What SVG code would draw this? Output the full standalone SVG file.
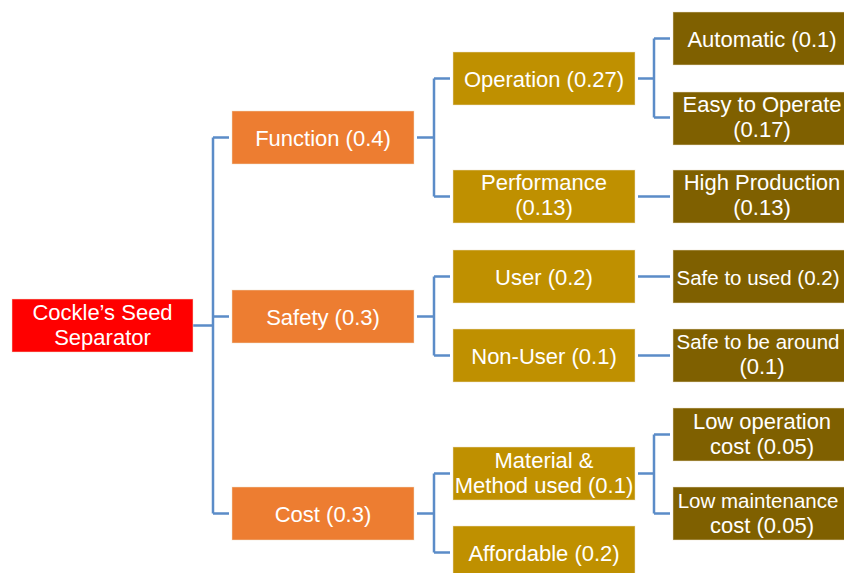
<svg xmlns="http://www.w3.org/2000/svg" width="844" height="573" viewBox="0 0 844 573">
<style>
.box{stroke:#F2E6D0;stroke-width:1;stroke-opacity:0.5}
.root{fill:#FF0000}
.l1{fill:#ED7D31}
.l2{fill:#BF9000}
.l3{fill:#7F6000}
text{font-family:"Liberation Sans",Arial,sans-serif;font-size:22px;fill:#FFFFFF;text-anchor:middle}
text.tight{font-size:20.5px}
.conn{fill:none;stroke:#5B8CC8;stroke-width:2.5}
</style>
<rect width="844" height="573" fill="#FFFFFF"/>
<g id="connectors" class="conn">
<path d="M193,325.5 H213 M213,137.5 V513.5 M213,137.5 H229 M213,316.5 H229 M213,513.5 H229"/>
<path d="M417,137.5 H434 M434,78.5 V196.5 M434,78.5 H450 M434,196.5 H450"/>
<path d="M417,316.5 H434 M434,276.5 V355.5 M434,276.5 H450 M434,355.5 H450"/>
<path d="M417,513.5 H434 M434,473.5 V552.5 M434,473.5 H450 M434,552.5 H450"/>
<path d="M638,78.5 H654 M654,38.5 V117.5 M654,38.5 H670 M654,117.5 H670"/>
<path d="M638,196.5 H670 M638,276.5 H670 M638,355.5 H670"/>
<path d="M638,473.5 H654 M654,434.5 V513.5 M654,434.5 H670 M654,513.5 H670"/>
</g>
<g id="root"><rect class="box root" x="12" y="299" width="181" height="53"/><text x="102.5" y="319.5">Cockle’s Seed</text><text x="102.5" y="344.5">Separator</text></g>
<g id="function"><rect class="box l1" x="232" y="111" width="182" height="53"/><text x="323" y="145.5">Function (0.4)</text></g>
<g id="safety"><rect class="box l1" x="232" y="290" width="182" height="53"/><text x="323" y="324.5">Safety (0.3)</text></g>
<g id="cost"><rect class="box l1" x="232" y="487" width="182" height="53"/><text x="323" y="521.5">Cost (0.3)</text></g>
<g id="operation"><rect class="box l2" x="453" y="52" width="182" height="53"/><text x="544" y="86.5">Operation (0.27)</text></g>
<g id="performance"><rect class="box l2" x="453" y="170" width="182" height="53"/><text x="544" y="189.5">Performance</text><text x="544" y="214.5">(0.13)</text></g>
<g id="user"><rect class="box l2" x="453" y="250" width="182" height="53"/><text x="544" y="284.5">User (0.2)</text></g>
<g id="non-user"><rect class="box l2" x="453" y="329" width="182" height="53"/><text x="544" y="363.5">Non-User (0.1)</text></g>
<g id="material"><rect class="box l2" x="453" y="447" width="182" height="53"/><text x="544" y="467.5">Material &amp;</text><text x="544" y="492.5">Method used (0.1)</text></g>
<g id="affordable"><rect class="box l2" x="453" y="526" width="182" height="53"/><text x="544" y="560.5">Affordable (0.2)</text></g>
<g id="automatic"><rect class="box l3" x="673" y="12" width="182" height="53"/><text x="762" y="46.5">Automatic (0.1)</text></g>
<g id="easy"><rect class="box l3" x="673" y="92" width="182" height="53"/><text x="762" y="111.5">Easy to Operate</text><text x="762" y="136.5">(0.17)</text></g>
<g id="high-production"><rect class="box l3" x="673" y="170" width="182" height="53"/><text x="762" y="189.5">High Production</text><text x="762" y="214.5">(0.13)</text></g>
<g id="safe-used"><rect class="box l3" x="673" y="250" width="182" height="53"/><text class="tight" x="758" y="284.5">Safe to used (0.2)</text></g>
<g id="safe-around"><rect class="box l3" x="673" y="329" width="182" height="53"/><text class="tight" x="758" y="348.5">Safe to be around</text><text x="762" y="373.5">(0.1)</text></g>
<g id="low-operation"><rect class="box l3" x="673" y="408" width="182" height="53"/><text x="762" y="428.5">Low operation</text><text x="762" y="453.5">cost (0.05)</text></g>
<g id="low-maintenance"><rect class="box l3" x="673" y="487" width="182" height="53"/><text class="tight" x="758" y="507.5">Low maintenance</text><text x="762" y="532.5">cost (0.05)</text></g>
</svg>
